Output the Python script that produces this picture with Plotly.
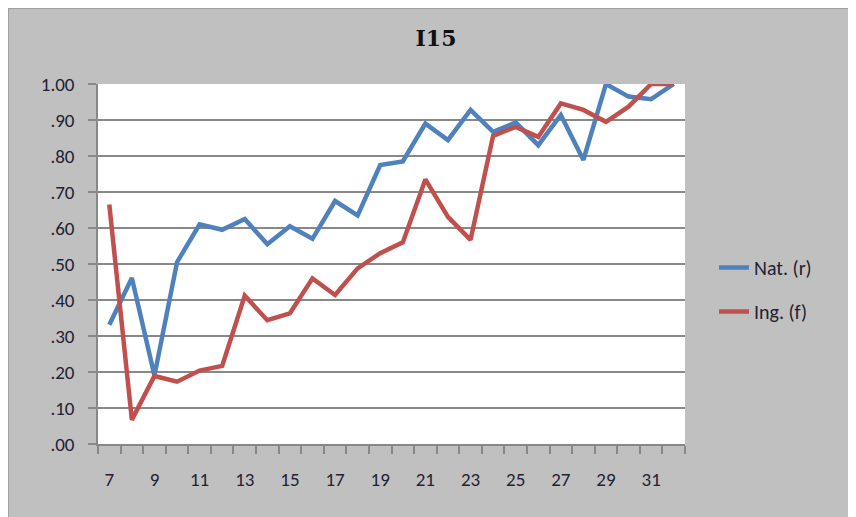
import plotly.graph_objects as go

items = list(range(7, 33))
nat_r = [0.331, 0.461, 0.190, 0.505, 0.610, 0.595, 0.625, 0.555, 0.605, 0.570,
         0.675, 0.635, 0.775, 0.785, 0.890, 0.844, 0.928, 0.867, 0.893, 0.830,
         0.914, 0.789, 1.000, 0.965, 0.958, 1.000]
ing_f = [0.665, 0.067, 0.189, 0.173, 0.204, 0.217, 0.412, 0.344, 0.363, 0.460,
         0.414, 0.488, 0.530, 0.560, 0.735, 0.631, 0.567, 0.856, 0.881, 0.853,
         0.946, 0.928, 0.895, 0.937, 1.000, 1.000]
y_ticks = [i / 10 for i in range(11)]
y_labels = [".00", ".10", ".20", ".30", ".40", ".50", ".60", ".70", ".80", ".90", "1.00"]
x_ticks = list(range(7, 33, 2))

# page has an 8px body margin, so figure coords = screen coords - 8
OFF = 8
W, H = 856, 517
L, R, T, B = 98 - OFF, W - (685 - OFF), 84 - OFF, H - (444 - OFF)
pw, ph = W - L - R, H - T - B

def px(x):
    return (x - OFF - L) / pw

def py(y):
    return (H - B - (y - OFF)) / ph

fnt = "Carlito, Lato, 'Open Sans', sans-serif"

fig = go.Figure()
fig.add_trace(go.Scatter(x=items, y=nat_r, name="Nat. (r)", mode="lines", legendgroup="a",
                         line=dict(color="#4F81BD", width=4.5)))
fig.add_trace(go.Scatter(x=items, y=ing_f, name="Ing. (f)", mode="lines", legendgroup="b",
                         line=dict(color="#C0504D", width=4.5)))

fig.update_layout(
    width=W, height=H,
    margin=dict(l=L, r=R, t=T, b=B),
    paper_bgcolor="#C0C0C0",
    plot_bgcolor="white",
    font=dict(family=fnt, size=19, color="#222233"),
    title=dict(text="<b>I15</b>", x=(436 - OFF) / W, xanchor="center",
               y=1 - (38 - OFF) / H, yanchor="middle", yref="container",
               font=dict(family="'DejaVu Serif', serif", size=22, color="#111")),
    showlegend=True,
    legend=dict(x=px(714), y=py(248), xanchor="left", yanchor="top",
                bgcolor="rgba(0,0,0,0)", tracegroupgap=15,
                font=dict(size=20, color="#222233")),
    shapes=[
        dict(type="line", xref="paper", yref="paper", x0=px(8), x1=px(W + 20), y0=py(8.5), y1=py(8.5),
             line=dict(color="#A0A0A0", width=1)),
        dict(type="line", xref="paper", yref="paper", x0=px(8.5), x1=px(8.5), y0=py(8), y1=py(H + 20),
             line=dict(color="#A0A0A0", width=1)),
    ],
)

fig.update_yaxes(range=[0, 1], tickvals=y_ticks, ticktext=y_labels,
                 showgrid=True, gridcolor="#888888", gridwidth=1.5,
                 showline=True, linecolor="#888888", linewidth=1.5,
                 ticks="outside", ticklen=8, tickcolor="#888888", tickwidth=1.5,
                 ticklabelstandoff=10, zeroline=False, fixedrange=True)
fig.update_xaxes(range=[6.5, 32.5], tickvals=x_ticks,
                 showgrid=False, showline=True, linecolor="#888888", linewidth=1.5,
                 ticks="", ticklabelstandoff=17, zeroline=False,
                 minor=dict(tick0=6.5, dtick=1, ticks="outside", ticklen=8,
                            tickcolor="#888888", tickwidth=1.5, showgrid=False))

fig.write_html("out.html")
